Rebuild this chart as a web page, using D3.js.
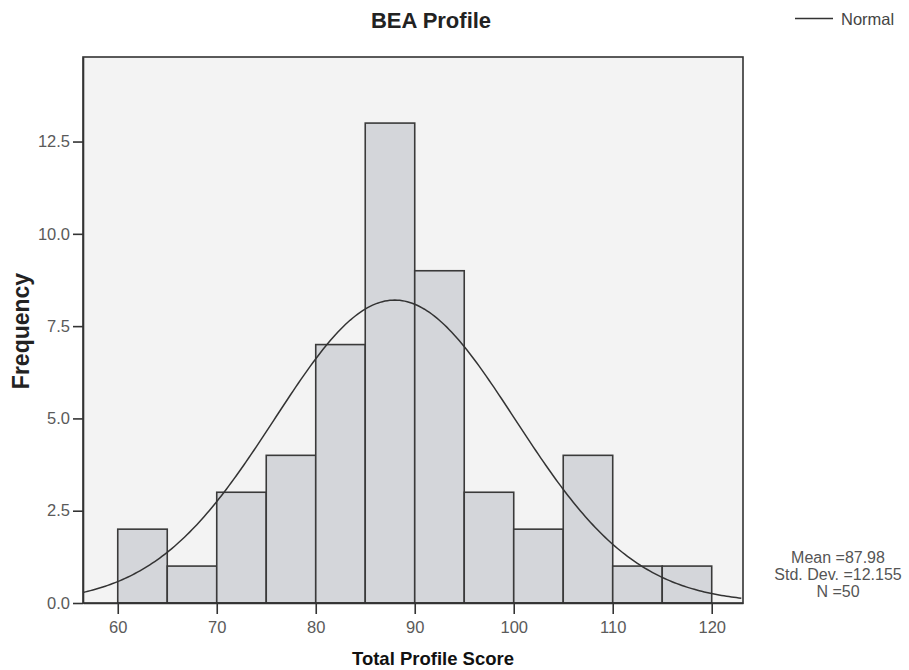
<!DOCTYPE html>
<html>
<head>
<meta charset="utf-8">
<script src="https://cdn.jsdelivr.net/npm/d3@7"></script>
<style>
  html, body { margin: 0; padding: 0; background: #fff; }
  svg { display: block; }
  text { font-family: "Liberation Sans", Arial, sans-serif; }
</style>
</head>
<body>
<svg id="chart" width="909" height="670"></svg>
<script>
// ---- data ----
const binStarts = [60, 65, 70, 75, 80, 85, 90, 95, 100, 105, 110, 115];
const binWidth = 5;
const frequencies = [2, 1, 3, 4, 7, 13, 9, 3, 2, 4, 1, 1];
const xTicks = [60, 70, 80, 90, 100, 110, 120];
const yTicks = [0, 2.5, 5, 7.5, 10, 12.5];
const statMean = 87.98;
const statSD = 12.155;
const statN = 50;
const statLabels = ["Mean =87.98", "Std. Dev. =12.155", "N =50"];
const titleText = "BEA Profile";
const xLabel = "Total Profile Score";
const yLabel = "Frequency";
const legendLabel = "Normal";

// ---- layout ----
const svg = d3.select("#chart");
const plot = { left: 83, top: 57, right: 743, bottom: 603 };

const x = d3.scaleLinear().domain([56.49, 123.16]).range([plot.left, plot.right]);
const y = d3.scaleLinear().domain([0, 14.79]).range([plot.bottom, plot.top]);

// plot background
svg.append("rect")
  .attr("x", plot.left).attr("y", plot.top)
  .attr("width", plot.right - plot.left).attr("height", plot.bottom - plot.top)
  .attr("fill", "#f3f3f3");

// bars
svg.append("g").selectAll("rect")
  .data(binStarts.map((s, i) => ({ s, f: frequencies[i] })))
  .join("rect")
  .attr("x", d => x(d.s))
  .attr("y", d => y(d.f))
  .attr("width", d => x(d.s + binWidth) - x(d.s))
  .attr("height", d => y(0) - y(d.f))
  .attr("fill", "#d4d6da")
  .attr("stroke", "#3a3a3a")
  .attr("stroke-width", 1.6);

// normal curve (fitted density scaled to counts)
const scaleK = statN * binWidth / (statSD * Math.sqrt(2 * Math.PI));
const xs = d3.range(x.domain()[0], x.domain()[1] + 0.001, 0.25);
const curve = xs.map(v => [v, scaleK * Math.exp(-0.5 * Math.pow((v - statMean) / statSD, 2))]);
svg.append("path")
  .datum(curve)
  .attr("fill", "none")
  .attr("stroke", "#333")
  .attr("stroke-width", 1.5)
  .attr("d", d3.line().x(d => x(d[0])).y(d => y(d[1])));

// frame
svg.append("rect")
  .attr("x", plot.left).attr("y", plot.top)
  .attr("width", plot.right - plot.left).attr("height", plot.bottom - plot.top)
  .attr("fill", "none")
  .attr("stroke", "#333")
  .attr("stroke-width", 1.6);

// axes
const xAxis = svg.append("g")
  .attr("transform", `translate(0,${plot.bottom})`)
  .call(d3.axisBottom(x).tickValues(xTicks).tickSize(11).tickSizeOuter(0).tickPadding(7).tickFormat(d3.format("d")));
const yAxis = svg.append("g")
  .attr("transform", `translate(${plot.left},0)`)
  .call(d3.axisLeft(y).tickValues(yTicks).tickSize(10).tickSizeOuter(0).tickPadding(3).tickFormat(d3.format(".1f")));

[xAxis, yAxis].forEach(g => {
  g.select(".domain").attr("stroke", "#333").attr("stroke-width", 1.6);
  g.selectAll(".tick line").attr("stroke", "#333").attr("stroke-width", 1.6);
  g.selectAll(".tick text")
    .attr("fill", "#5a5a5a")
    .attr("font-size", 16.5)
    .attr("font-family", "'Liberation Sans', Arial, sans-serif");
});

// title
svg.append("text")
  .attr("x", 431).attr("y", 28)
  .attr("text-anchor", "middle")
  .attr("font-size", 22).attr("font-weight", "bold")
  .attr("fill", "#222")
  .text(titleText);

// x label
svg.append("text")
  .attr("x", 433).attr("y", 665)
  .attr("text-anchor", "middle")
  .attr("font-size", 18.5).attr("font-weight", "bold")
  .attr("fill", "#111")
  .text(xLabel);

// y label
svg.append("text")
  .attr("transform", "translate(29,331) rotate(-90)")
  .attr("text-anchor", "middle")
  .attr("font-size", 23).attr("font-weight", "bold")
  .attr("fill", "#222")
  .text(yLabel);

// legend
svg.append("line")
  .attr("x1", 795).attr("x2", 833)
  .attr("y1", 18.5).attr("y2", 18.5)
  .attr("stroke", "#333").attr("stroke-width", 1.6);
svg.append("text")
  .attr("x", 841).attr("y", 25)
  .attr("font-size", 16.5)
  .attr("fill", "#444")
  .text(legendLabel);

// stats
svg.append("g").selectAll("text")
  .data(statLabels)
  .join("text")
  .attr("x", 838)
  .attr("y", (d, i) => 563 + i * 17)
  .attr("text-anchor", "middle")
  .attr("font-size", 16)
  .attr("fill", "#555")
  .text(d => d);
</script>
</body>
</html>
